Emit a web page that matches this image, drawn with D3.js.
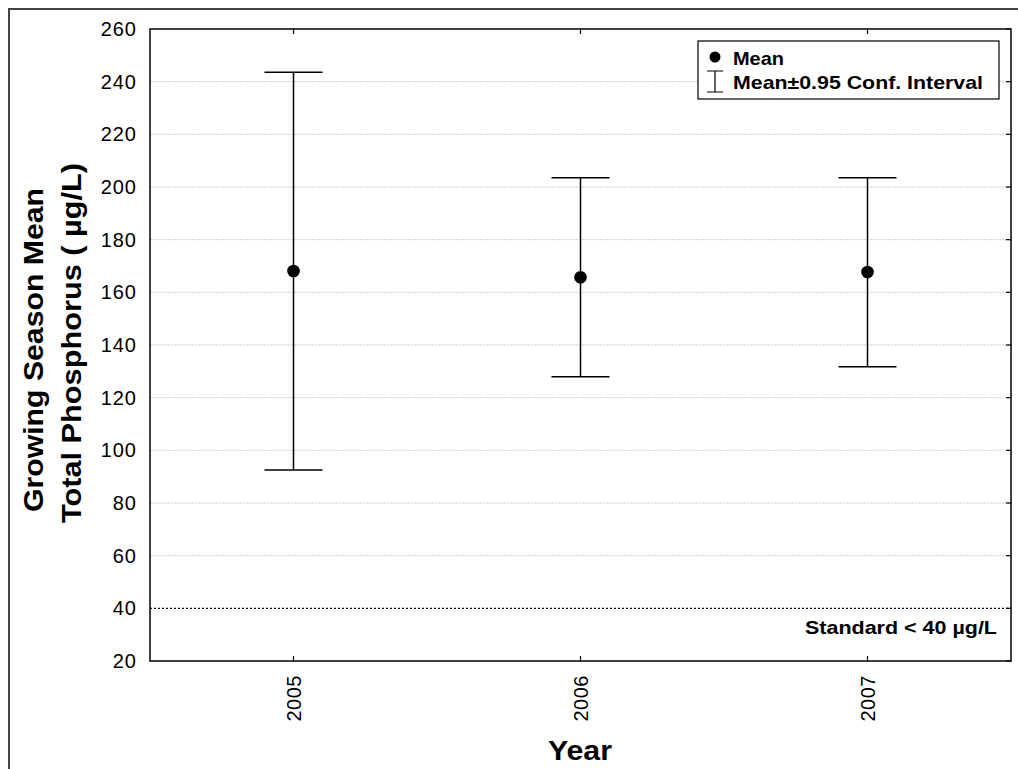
<!DOCTYPE html>
<html><head><meta charset="utf-8">
<script src="https://cdn.jsdelivr.net/npm/d3@7"></script>
<style>body{margin:0;background:#fff}svg{display:block}text{font-family:"Liberation Sans",Arial,sans-serif}</style>
</head><body><svg id="c" width="1018" height="769"></svg>
<script>
const years = ["2005","2006","2007"];
const means = [168.1, 165.7, 167.7];
const upper = [243.6, 203.5, 203.5];
const lower = [92.5, 127.9, 131.7];
const yTicks = [20,40,60,80,100,120,140,160,180,200,220,240,260];
const standard = 40;

const svg = d3.select("#c");
const L=150, R=1011, T=29, B=661;
const x = d3.scaleBand().domain(years).range([L,R]);
const y = d3.scaleLinear().domain([20,260]).range([B,T]);
const cx = d => x(d)+x.bandwidth()/2;

// outer frame
svg.append("path").attr("d","M9,769 V9 H1018").attr("fill","none").attr("stroke","#444").attr("stroke-width",2);

// grid
svg.append("g").selectAll("line").data(yTicks.filter(v=>v!==20&&v!==260&&v!==standard)).join("line")
  .attr("x1",L).attr("x2",R).attr("y1",d=>y(d)).attr("y2",d=>y(d))
  .attr("stroke","#cfcfcf").attr("stroke-width",1).attr("stroke-dasharray","2,1");

// standard line
svg.append("line").attr("x1",L).attr("x2",R).attr("y1",y(standard)).attr("y2",y(standard))
  .attr("stroke","#000").attr("stroke-width",1.2).attr("stroke-dasharray","2,2");
svg.append("text").attr("x",997).attr("y",y(standard)+26).attr("text-anchor","end")
  .attr("font-size",18).attr("font-weight","bold").attr("textLength",192).attr("lengthAdjust","spacingAndGlyphs")
  .text("Standard < 40 \u00b5g/L");

// axes
const yAx = svg.append("g").attr("transform",`translate(${L},0)`)
  .call(d3.axisLeft(y).tickValues(yTicks).tickSize(0).tickPadding(13));
yAx.select(".domain").remove();
yAx.selectAll("text").attr("font-size",20).attr("letter-spacing",1).attr("font-family","Liberation Sans, Arial").attr("fill","#000");

const xAx = svg.append("g").attr("transform",`translate(0,${B})`)
  .call(d3.axisBottom(x).tickSize(0));
xAx.select(".domain").remove();
xAx.selectAll("text").attr("font-size",20).attr("letter-spacing",0.5).attr("font-family","Liberation Sans, Arial").attr("fill","#000")
  .attr("transform","rotate(-90)").attr("text-anchor","end").attr("dy","0.35em").attr("x",-14).attr("y",0);

// inward ticks
const tk = svg.append("g").attr("stroke","#000").attr("stroke-width",1.2);
years.forEach(d=>{
  tk.append("line").attr("x1",cx(d)).attr("x2",cx(d)).attr("y1",B+1).attr("y2",B-5);
  tk.append("line").attr("x1",cx(d)).attr("x2",cx(d)).attr("y1",T).attr("y2",T+5);
});
yTicks.forEach(v=>{
  tk.append("line").attr("x1",R).attr("x2",R-5).attr("y1",y(v)).attr("y2",y(v));
});

// plot frame
svg.append("rect").attr("x",L).attr("y",T).attr("width",R-L).attr("height",B-T)
  .attr("fill","none").attr("stroke","#000").attr("stroke-width",1.5);

// error bars
const g = svg.append("g").attr("stroke","#000").attr("stroke-width",1.5);
years.forEach((d,i)=>{
  g.append("line").attr("x1",cx(d)).attr("x2",cx(d)).attr("y1",y(upper[i])).attr("y2",y(lower[i]));
  g.append("line").attr("x1",cx(d)-29).attr("x2",cx(d)+29).attr("y1",y(upper[i])).attr("y2",y(upper[i]));
  g.append("line").attr("x1",cx(d)-29).attr("x2",cx(d)+29).attr("y1",y(lower[i])).attr("y2",y(lower[i]));
});
svg.append("g").selectAll("circle").data(years).join("circle")
  .attr("cx",d=>cx(d)).attr("cy",(d,i)=>y(means[i])).attr("r",6.3).attr("fill","#000");

// legend
const lg = svg.append("g");
lg.append("rect").attr("x",698).attr("y",41).attr("width",301).attr("height",58)
  .attr("fill","#fff").attr("stroke","#000").attr("stroke-width",1.2);
lg.append("circle").attr("cx",715).attr("cy",57).attr("r",5.5).attr("fill","#000");
lg.append("path").attr("d","M707,71 H723 M715,71 V92 M707,92 H723").attr("stroke","#000").attr("stroke-width",1.2).attr("fill","none");
lg.append("text").attr("x",733).attr("y",65).attr("font-size",18.5).attr("font-weight","bold")
  .attr("textLength",51).attr("lengthAdjust","spacingAndGlyphs").text("Mean");
lg.append("text").attr("x",733).attr("y",89).attr("font-size",18.5).attr("font-weight","bold")
  .attr("textLength",250).attr("lengthAdjust","spacingAndGlyphs").text("Mean\u00b10.95 Conf. Interval");

// axis titles
svg.append("text").attr("x",580).attr("y",760).attr("text-anchor","middle")
  .attr("font-size",28).attr("font-weight","bold").attr("textLength",64).attr("lengthAdjust","spacingAndGlyphs").text("Year");
const t1 = svg.append("text").attr("transform",`translate(43,350) rotate(-90)`)
  .attr("text-anchor","middle").attr("font-size",28).attr("font-weight","bold")
  .attr("textLength",324).attr("lengthAdjust","spacingAndGlyphs").text("Growing Season Mean");
const t2 = svg.append("text").attr("transform",`translate(81,343) rotate(-90)`)
  .attr("text-anchor","middle").attr("font-size",28).attr("font-weight","bold")
  .attr("textLength",360).attr("lengthAdjust","spacingAndGlyphs").text("Total Phosphorus ( \u00b5g/L)");
</script></body></html>
